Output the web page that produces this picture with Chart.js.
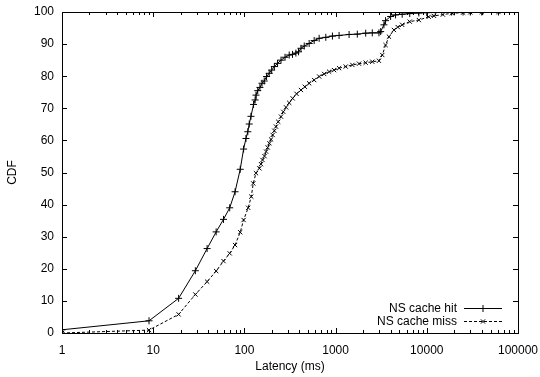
<!DOCTYPE html>
<html>
<head>
<meta charset="utf-8">
<script src="https://cdn.jsdelivr.net/npm/chart.js@4.4.1/dist/chart.umd.min.js"></script>
<style>
  html, body { margin: 0; padding: 0; background: #fff; }
  #wrap { width: 540px; height: 377px; }
</style>
</head>
<body>
<div id="wrap"><canvas id="c" width="540" height="377"></canvas></div>
<script>
// ---- data ----
const seriesNames = ["NS cache hit", "NS cache miss"];
const hitLatency = [1, 9, 19, 29, 39, 49, 59, 69, 79, 90, 98, 104, 109, 113, 118, 126, 131, 134, 140, 148, 156, 165, 175, 187, 199, 213, 231, 252, 279, 310, 337, 367, 392, 417, 453, 513, 582, 660, 781, 923, 1092, 1406, 1730, 2138, 2525, 2988, 3120, 3388, 3530, 4009, 4540, 5370, 6500, 8180, 10000, 12400, 18700, 25000, 30000, 40000, 61000];
const hitCdf     = [1, 3.8, 10.8, 19.4, 26.3, 31.5, 35.4, 39, 44, 51, 57.3, 60.6, 62.7, 65.1, 67.5, 71.2, 72.6, 74.1, 75.5, 76.5, 77.8, 78.5, 79.9, 80.9, 81.9, 83, 84, 85, 85.9, 86.6, 86.8, 87.2, 87.6, 88.7, 89.4, 90.2, 91.1, 91.8, 92.1, 92.5, 92.7, 93, 93.1, 93.4, 93.5, 93.5, 93.9, 96, 97.3, 98.6, 99.1, 99.3, 99.5, 99.7, 99.8, 99.9, 100, 100, 100, 100, 100];
const missLatency = [1, 9, 19, 29, 39, 49, 59, 69, 79, 90, 98, 110, 119, 125, 134, 146, 152, 158, 166, 173, 180, 188, 196, 204, 213, 222, 235, 252, 267, 286, 310, 338, 373, 417, 460, 513, 582, 660, 749, 849, 963, 1092, 1291, 1527, 1807, 2138, 2525, 2988, 3250, 3530, 3845, 4360, 4800, 5370, 6500, 8180, 10500, 12000, 15000, 18900, 25000, 30000, 40000, 61000];
const missCdf     = [0, 0.9, 5.8, 12, 16, 19.3, 22.4, 24.8, 27.4, 31.4, 35.2, 39, 42.5, 46.6, 49.8, 51.3, 52.6, 53.9, 55.1, 56.5, 57.8, 59.1, 60.3, 61.7, 63, 64.3, 65.8, 67.4, 68.9, 70.3, 71.7, 73.1, 74.5, 75.7, 76.7, 77.8, 78.8, 79.9, 80.7, 81.4, 81.9, 82.5, 83, 83.5, 83.9, 84.2, 84.5, 84.8, 86.6, 89.7, 92.3, 94.4, 95.3, 96, 97, 97.5, 98.5, 98.8, 99.2, 99.6, 99.8, 99.9, 100, 100];
const xTickLabels = ["1", "10", "100", "1000", "10000", "100000"];
const yTicks = [0, 10, 20, 30, 40, 50, 60, 70, 80, 90, 100];
const xTitle = "Latency (ms)";
const yTitle = "CDF";

const FONT = "'Liberation Sans', Arial, Helvetica, sans-serif";

const toPts = (xs, ys) => xs.map((x, i) => ({ x: x, y: ys[i] }));

// inward ticks + frame (gnuplot style)
const framePlugin = {
  id: 'frame',
  afterDatasetsDraw(chart) {
    const { ctx, chartArea: a, scales } = chart;
    const xs = scales.x, ys = scales.y;
    ctx.save();
    ctx.strokeStyle = '#000';
    ctx.lineWidth = 1;
    ctx.beginPath();
    yTicks.forEach(v => {
      const py = Math.round(ys.getPixelForValue(v)) + 0.5;
      ctx.moveTo(a.left, py); ctx.lineTo(a.left + 5, py);
      ctx.moveTo(a.right, py); ctx.lineTo(a.right - 5, py);
    });
    for (let d = 0; d < 5; d++) {
      for (let m = 1; m <= 9; m++) {
        const v = m * Math.pow(10, d);
        const px = Math.round(xs.getPixelForValue(v)) + 0.5;
        const len = m === 1 ? 5 : 3;
        ctx.moveTo(px, a.bottom); ctx.lineTo(px, a.bottom - len);
        ctx.moveTo(px, a.top); ctx.lineTo(px, a.top + len);
      }
    }
    ctx.stroke();
    ctx.strokeRect(Math.round(a.left) + 0.5, Math.round(a.top) + 0.5, Math.round(a.right - a.left), Math.round(a.bottom - a.top));
    ctx.restore();
  }
};

// gnuplot-like key: text right-aligned, sample on the right
const keyPlugin = {
  id: 'key',
  afterDraw(chart) {
    const { ctx } = chart;
    const rows = [
      { y: 309, ds: chart.data.datasets[0] },
      { y: 322, ds: chart.data.datasets[1] }
    ];
    ctx.save();
    ctx.font = "12px " + FONT;
    ctx.fillStyle = '#000';
    ctx.textAlign = 'right';
    ctx.textBaseline = 'middle';
    rows.forEach(r => {
      ctx.fillText(r.ds.label, 457, r.y);
      ctx.strokeStyle = '#000';
      ctx.lineWidth = 1;
      ctx.setLineDash(r.ds.borderDash || []);
      ctx.beginPath();
      ctx.moveTo(464, r.y - 0.5); ctx.lineTo(502, r.y - 0.5);
      ctx.stroke();
      ctx.setLineDash([]);
      Chart.helpers.drawPoint(ctx, { pointStyle: r.ds.pointStyle, radius: r.ds.pointRadius, borderWidth: 1 }, 483, r.y - 0.5);
    });
    ctx.restore();
  }
};

new Chart(document.getElementById('c'), {
  type: 'line',
  data: {
    datasets: [
      {
        label: seriesNames[0],
        data: toPts(hitLatency, hitCdf),
        borderColor: '#000', backgroundColor: '#000',
        borderWidth: 1, pointStyle: 'cross', pointRadius: 3.5,
        pointBorderWidth: 1, pointBorderColor: '#000', tension: 0
      },
      {
        label: seriesNames[1],
        data: toPts(missLatency, missCdf),
        borderColor: '#000', backgroundColor: '#000',
        borderWidth: 1, borderDash: [3, 2], pointStyle: 'crossRot', pointRadius: 3,
        pointBorderWidth: 1, pointBorderColor: '#000', tension: 0
      }
    ]
  },
  options: {
    responsive: false,
    animation: false,
    devicePixelRatio: 1,
    layout: { padding: { left: 0, top: 12, right: 22, bottom: 0 } },
    plugins: { legend: { display: false }, tooltip: { enabled: false } },
    scales: {
      x: {
        type: 'logarithmic', min: 1, max: 100000,
        grid: { display: false, drawTicks: false },
        border: { display: false },
        afterFit: s => { s.height = 44; s.paddingLeft = 0; s.paddingRight = 0; },
        afterBuildTicks: s => { s.ticks = xTickLabels.map(t => ({ value: Number(t) })); },
        ticks: {
          autoSkip: false, maxRotation: 0, padding: 10, color: '#000',
          font: { family: FONT, size: 12 },
          callback: (v) => { const s = String(v); return xTickLabels.includes(s) ? s : ''; }
        },
        title: { display: true, text: xTitle, color: '#000', font: { family: FONT, size: 12 }, padding: { top: 0, bottom: 3 } }
      },
      y: {
        min: 0, max: 100,
        grid: { display: false, drawTicks: false },
        border: { display: false },
        afterFit: s => { s.width = 62; s.paddingTop = 0; s.paddingBottom = 0; },
        afterBuildTicks: s => { s.ticks = yTicks.map(v => ({ value: v })); },
        ticks: { padding: 8, color: '#000', font: { family: FONT, size: 12 } },
        title: { display: true, text: yTitle, color: '#000', font: { family: FONT, size: 12 }, padding: { top: 5, bottom: 0 } }
      }
    }
  },
  plugins: [framePlugin, keyPlugin]
});
</script>
</body>
</html>
